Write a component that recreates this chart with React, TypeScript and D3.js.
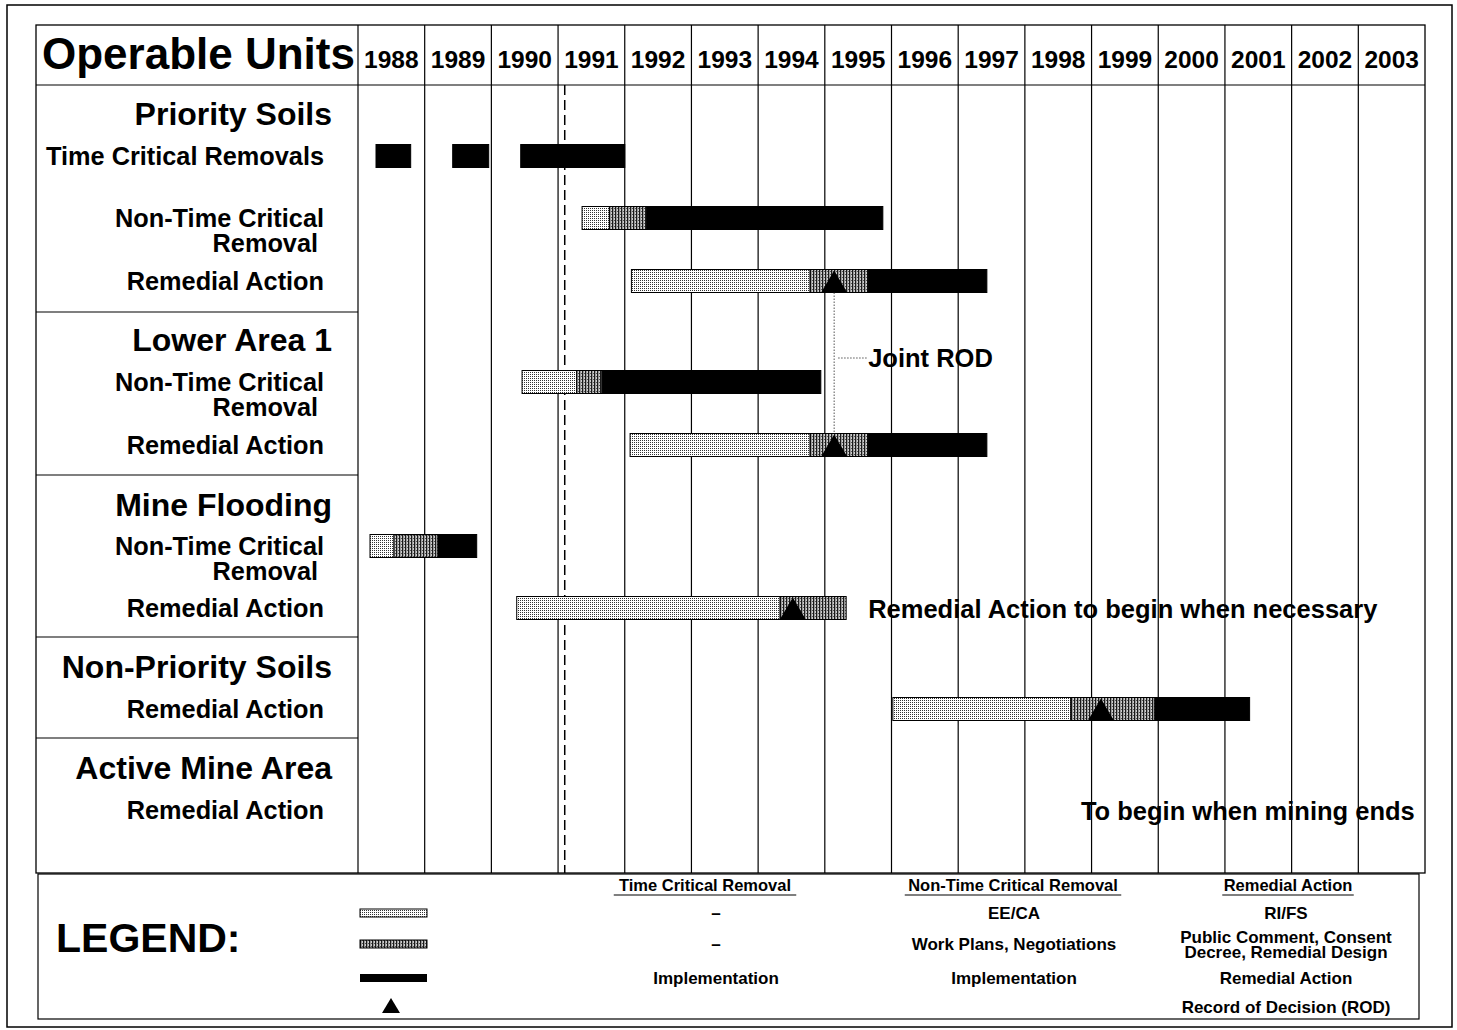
import React from 'react';
import * as d3 from 'd3';

// tick labels (year columns)
const years = [1988, 1989, 1990, 1991, 1992, 1993, 1994, 1995, 1996, 1997, 1998, 1999, 2000, 2001, 2002, 2003];

const sections = ['Priority Soils', 'Lower Area 1', 'Mine Flooding', 'Non-Priority Soils', 'Active Mine Area'];

// activity rows: [section index, label lines]
const activities: [number, string[]][] = [
  [0, ['Time Critical Removals']],
  [0, ['Non-Time Critical', 'Removal']],
  [0, ['Remedial Action']],
  [1, ['Non-Time Critical', 'Removal']],
  [1, ['Remedial Action']],
  [2, ['Non-Time Critical', 'Removal']],
  [2, ['Remedial Action']],
  [3, ['Remedial Action']],
  [4, ['Remedial Action']],
];

// [activity, phase, start, end]; phase: study | plan | impl
const phases: [number, string, number, number][] = [
  [0, 'impl', 1988.27, 1988.79],
  [0, 'impl', 1989.42, 1989.96],
  [0, 'impl', 1990.44, 1992.0],
  [1, 'study', 1991.36, 1991.77],
  [1, 'plan', 1991.77, 1992.33],
  [1, 'impl', 1992.33, 1995.87],
  [2, 'study', 1992.1, 1994.78],
  [2, 'plan', 1994.78, 1995.65],
  [2, 'impl', 1995.65, 1997.43],
  [3, 'study', 1990.46, 1991.28],
  [3, 'plan', 1991.28, 1991.66],
  [3, 'impl', 1991.66, 1994.94],
  [4, 'study', 1992.08, 1994.78],
  [4, 'plan', 1994.78, 1995.65],
  [4, 'impl', 1995.65, 1997.43],
  [5, 'study', 1988.18, 1988.54],
  [5, 'plan', 1988.54, 1989.2],
  [5, 'impl', 1989.2, 1989.78],
  [6, 'study', 1990.38, 1994.33],
  [6, 'plan', 1994.33, 1995.32],
  [7, 'study', 1996.02, 1998.69],
  [7, 'plan', 1998.69, 1999.95],
  [7, 'impl', 1999.95, 2001.37],
];

// record of decision markers: [activity, year]
const rods: [number, number][] = [
  [2, 1995.14],
  [4, 1995.14],
  [6, 1994.52],
  [7, 1999.14],
];

const statusDate = 1991.1;

// annotations: [activity, year, text]
const notes: [number, number, string][] = [
  [6, 1995.65, 'Remedial Action to begin when necessary'],
  [8, 1998.84, 'To begin when mining ends'],
];
const jointRod = { from: 2, to: 4, year: 1995.14, textYear: 1995.65, text: 'Joint ROD' };

const legendHeads = ['Time Critical Removal', 'Non-Time Critical Removal', 'Remedial Action'];
const legendTcr = ['–', '–', 'Implementation', ''];
const legendNtcr = ['EE/CA', 'Work Plans, Negotiations', 'Implementation', ''];
const legendRa = ['RI/FS', 'Public Comment, Consent|Decree, Remedial Design', 'Remedial Action', 'Record of Decision (ROD)'];

const FONT = '"Liberation Sans", Arial, Helvetica, sans-serif';

export default function App() {
  const W = 1457;
  const H = 1030;
  const left = 36;
  const labelRight = 358;
  const right = 1425;
  const top = 25;
  const headBottom = 85;
  const gridBottom = 873;

  const x = d3.scaleLinear().domain([1988, 2004]).range([labelRight, right]);

  // layout
  const sectionTops = [85, 312, 475, 637, 738, 873];
  const sectionTitleY = [114, 340, 505, 667, 768];
  const rowY = [156, 218, 281, 382, 445, 546, 608, 709, 810];
  const barH = 23;

  const fills: Record<string, string> = { study: 'url(#dots)', plan: 'url(#stripes)', impl: '#000' };

  const tri = (cx: number, yTop: number, yBot: number, hw: number) =>
    `M${cx - hw},${yBot}L${cx},${yTop}L${cx + hw},${yBot}Z`;

  const legHeadX = [705, 1013, 1288];
  const legCols = [716, 1014, 1286];
  const legRowY = [913, 944, 978, 1007];
  const legCols2 = [legendTcr, legendNtcr, legendRa];

  return (
    <svg width={W} height={H} style={{ position: 'absolute', left: 0, top: 0, background: '#fff' }} fontFamily={FONT} fontWeight="bold">
      <defs>
        <pattern id="dots" width={2} height={2} patternUnits="userSpaceOnUse">
          <rect width={2} height={2} fill="#fff" />
          <rect width={1} height={1} fill="#333" />
        </pattern>
        <pattern id="stripes" width={3} height={3} patternUnits="userSpaceOnUse">
          <rect width={3} height={3} fill="#cfcfcf" />
          <rect width={1.3} height={3} fill="#1a1a1a" />
          <rect x={2} y={1} width={1} height={1} fill="#555" />
        </pattern>
      </defs>

      {/* outer frame */}
      <rect x={7} y={5} width={1445} height={1022} fill="none" stroke="#000" strokeWidth={1.5} />

      {/* table frame */}
      <rect x={left} y={top} width={right - left} height={gridBottom - top} fill="none" stroke="#000" strokeWidth={1.3} />
      <line x1={left} x2={right} y1={headBottom} y2={headBottom} stroke="#000" strokeWidth={1.2} />
      {sectionTops.slice(1, -1).map((y, i) => (
        <line key={i} x1={left} x2={labelRight} y1={y} y2={y} stroke="#000" strokeWidth={1.2} />
      ))}

      {/* year grid */}
      {years.map(yr => (
        <line key={yr} x1={x(yr)} x2={x(yr)} y1={top} y2={gridBottom} stroke="#000" strokeWidth={1.2} />
      ))}
      {years.map(yr => (
        <text key={'t' + yr} x={x(yr + 0.5)} y={68} textAnchor="middle" fontSize={24.5}>{yr}</text>
      ))}
      <text x={42} y={69} fontSize={44}>Operable Units</text>

      {/* status line */}
      <line x1={x(statusDate)} x2={x(statusDate)} y1={headBottom} y2={gridBottom} stroke="#000" strokeWidth={1.5} strokeDasharray="10,5" />

      {/* section titles */}
      {sections.map((s, i) => (
        <text key={s} x={332} y={sectionTitleY[i] + 11} textAnchor="end" fontSize={32}>{s}</text>
      ))}

      {/* activity labels */}
      {activities.map(([, lines], i) =>
        lines.map((ln, j) => (
          <text key={i + '-' + j} x={lines.length > 1 && j > 0 ? 318 : 324} y={rowY[i] + 9 + j * 25} textAnchor="end" fontSize={25.3}>{ln}</text>
        ))
      )}

      {/* bars */}
      {phases.map(([a, p, s, e], i) => (
        <rect key={i} x={x(s)} y={rowY[a] - barH / 2} width={x(e) - x(s)} height={barH} fill={fills[p]} stroke="#000" strokeWidth={1} />
      ))}

      {/* joint ROD connector */}
      <line x1={x(jointRod.year)} x2={x(jointRod.year)} y1={rowY[jointRod.from] + barH / 2} y2={rowY[jointRod.to] - barH / 2} stroke="#555" strokeWidth={1} strokeDasharray="1.5,1.5" />
      <line x1={x(jointRod.year) + 4} x2={x(jointRod.textYear)} y1={358} y2={358} stroke="#555" strokeWidth={1} strokeDasharray="1.5,1.5" />
      <text x={x(jointRod.textYear)} y={367} fontSize={25.5}>{jointRod.text}</text>

      {/* ROD markers */}
      {rods.map(([a, yr], i) => (
        <path key={i} d={tri(x(yr), rowY[a] - barH / 2 + 1, rowY[a] + barH / 2, 13)} fill="#000" />
      ))}

      {/* notes */}
      {notes.map(([a, yr, t], i) => (
        <text key={i} x={x(yr)} y={rowY[a] + 10} fontSize={25.5}>{t}</text>
      ))}

      {/* legend */}
      <rect x={38} y={gridBottom + 1} width={1381} height={145} fill="none" stroke="#000" strokeWidth={1.2} />
      <text x={56} y={952} fontSize={41}>LEGEND:</text>
      <rect x={360} y={legRowY[0] - 4} width={67} height={8} fill="url(#dots)" stroke="#000" strokeWidth={1} />
      <rect x={360} y={legRowY[1] - 4} width={67} height={8} fill="url(#stripes)" stroke="#000" strokeWidth={1} />
      <rect x={360} y={legRowY[2] - 4} width={67} height={8} fill="#000" />
      <path d={tri(391, legRowY[3] - 9, legRowY[3] + 6, 9)} fill="#000" />

      {legendHeads.map((h, i) => {
        const w = h.length * 8.5;
        return (
          <g key={h}>
            <text x={legHeadX[i]} y={891} textAnchor="middle" fontSize={16.5}>{h}</text>
            <line x1={legHeadX[i] - w / 2 - 2} x2={legHeadX[i] + w / 2 + 2} y1={895} y2={895} stroke="#000" strokeWidth={1.2} />
          </g>
        );
      })}
      {legCols2.map((col, c) =>
        col.map((t, r) => {
          const parts = t.split('|');
          return parts.map((p, k) => (
            <text key={c + '-' + r + '-' + k} x={legCols[c]} y={legRowY[r] + 6 + (parts.length > 1 ? (k - 0.5) * 15 : 0)} textAnchor="middle" fontSize={17}>{p}</text>
          ));
        })
      )}
    </svg>
  );
}
